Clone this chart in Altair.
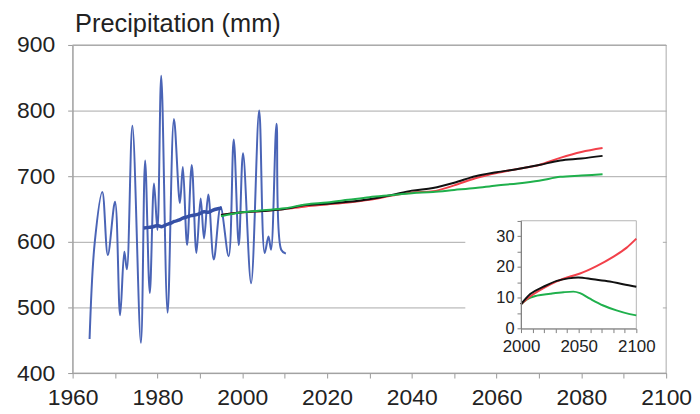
import altair as alt
import pandas as pd

# Observed annual precipitation (blue, thin)
obs_years = [1964.0, 1965.2, 1967.0, 1968.3, 1970.0, 1971.2, 1972.2, 1972.8, 1974.1, 1976.1,
             1977.1, 1978.2, 1979.2, 1980.0, 1980.9, 1982.4, 1983.9, 1985.3, 1986.0, 1987.0,
             1988.1, 1989.2, 1990.2, 1991.0, 1992.0, 1993.3, 1994.9, 1996.8, 1998.0, 1999.2,
             2000.2, 2002.1, 2004.0, 2005.3, 2006.2, 2006.8, 2008.1, 2009.2, 2010.3]
obs_vals = [452, 598, 676, 580, 661, 488, 585, 558, 777, 446,
            724, 522, 689, 618, 853, 492, 787, 659, 714, 595,
            717, 583, 666, 605, 672, 573, 653, 578, 756, 595,
            735, 537, 800, 583, 608, 588, 780, 588, 582]

# Running mean (blue, thick)
ma_years = [1976.8, 1978, 1979, 1980, 1981, 1982, 1983, 1984, 1985, 1986,
            1987, 1988, 1989, 1990, 1991, 1992, 1993, 1994, 1995.2]
ma_vals = [621, 622, 623, 625, 623, 626, 628, 631, 633, 636,
           638, 640, 641, 643, 646, 645, 648, 650, 651]

# Projections (main panel)
proj_years = [1995, 2000, 2005, 2010, 2015, 2020, 2025, 2030, 2035, 2040,
              2045, 2050, 2055, 2060, 2065, 2070, 2075, 2080, 2085]
black_vals = [641, 645, 647, 650, 656, 658, 661, 665, 671, 678,
              682, 690, 700, 706, 711, 717, 724, 727, 731]
red_vals = [641, 645, 647, 650, 654, 657, 660, 664, 670, 675,
            677, 686, 697, 705, 711, 717, 728, 737, 743]
green_vals = [639, 645, 648, 651, 657, 660, 664, 668, 671, 674,
              676, 679, 682, 686, 689, 693, 699, 701, 703]

# Inset series
in_black_years = [2000, 2008, 2019.5, 2031, 2041, 2049.6, 2062.5, 2077, 2088.5, 2100]
in_black_vals = [7.9, 11.2, 13.6, 15.5, 16.3, 16.6, 16.0, 15.3, 14.4, 13.6]
in_red_years = [2000, 2008, 2019.5, 2031, 2042.6, 2051.2, 2065.5, 2079.9, 2091.4, 2100]
in_red_vals = [7.9, 10.4, 13.1, 15.3, 16.9, 17.9, 20.3, 23.3, 26.2, 29.2]
in_green_years = [2000, 2005.2, 2013.8, 2025.3, 2036.8, 2045.4, 2051.2, 2059.8, 2071.3, 2082.8, 2094.3, 2100]
in_green_vals = [7.9, 9.5, 10.7, 11.3, 11.8, 12.0, 11.5, 9.7, 7.5, 5.9, 4.7, 4.3]

# Inset panel extents (in inset data units)
inset_x_domain = [2000, 2100]
inset_y_domain = [0, 35]
inset_bg = {"x": 1951.7, "x2": 2123, "y": -11.5, "y2": 37.8}

FONT = "Liberation Sans"
TXT = "#222222"
GRID = "#a9a9a9"

# ---------- main panel ----------
main_x = alt.X("year:Q",
               scale=alt.Scale(domain=[1960, 2100], nice=False),
               axis=alt.Axis(values=list(range(1960, 2101, 10)), format="d",
                             labelExpr="datum.value % 20 == 0 ? datum.label : ''",
                             grid=False, domainColor="#999999", tickColor="#999999",
                             tickSize=5, labelFontSize=23, labelFont=FONT, labelColor=TXT,
                             labelPadding=9, title=None, labelFlush=False))
main_y = alt.Y("value:Q",
               scale=alt.Scale(domain=[400, 900], nice=False, zero=False),
               axis=alt.Axis(values=list(range(400, 901, 100)), grid=True, gridColor=GRID,
                             domainColor="#999999", tickColor="#999999", tickSize=5,
                             labelFontSize=23, labelFont=FONT, labelColor=TXT, labelPadding=13,
                             title="Precipitation (mm)", titleAngle=0, titleAlign="left",
                             titleBaseline="alphabetic", titleX=2, titleY=-13.3,
                             titleFontSize=25.5, titleFontWeight="normal", titleFont=FONT,
                             titleColor=TXT))

df_obs = pd.DataFrame({"year": obs_years, "value": obs_vals})
df_ma = pd.DataFrame({"year": ma_years, "value": ma_vals})
df_black = pd.DataFrame({"year": proj_years, "value": black_vals})
df_red = pd.DataFrame({"year": proj_years, "value": red_vals})
df_green = pd.DataFrame({"year": proj_years, "value": green_vals})
df_frame = pd.DataFrame({"year": [1960], "year2": [2100], "value": [400], "value2": [900]})

frame = alt.Chart(df_frame).mark_rect(filled=False, stroke=GRID, strokeWidth=1).encode(
    x=main_x, x2="year2:Q", y=main_y, y2="value2:Q")
obs = alt.Chart(df_obs).mark_line(color="#4a64b6", strokeWidth=2, interpolate="catmull-rom").encode(x=main_x, y=main_y)
ma = alt.Chart(df_ma).mark_line(color="#3550a6", strokeWidth=3.5, interpolate="monotone").encode(x=main_x, y=main_y)
l_red = alt.Chart(df_red).mark_line(color="#f2404a", strokeWidth=2, interpolate="monotone").encode(x=main_x, y=main_y)
l_black = alt.Chart(df_black).mark_line(color="#111111", strokeWidth=2, interpolate="monotone").encode(x=main_x, y=main_y)
l_green = alt.Chart(df_green).mark_line(color="#1fb04c", strokeWidth=2, interpolate="monotone").encode(x=main_x, y=main_y)

main = alt.layer(frame, obs, ma, l_red, l_black, l_green)

# ---------- inset panel ----------
in_x = alt.X("year:Q",
             scale=alt.Scale(domain=inset_x_domain, range=[451, 567], nice=False),
             axis=alt.Axis(orient="bottom", offset=-44.7, values=list(range(2000, 2101, 10)),
                           format="d", labelExpr="datum.value % 50 == 0 ? datum.label : ''",
                           grid=False, domainColor="#808080", tickColor="#808080", tickSize=4,
                           labelFontSize=17, labelFont=FONT, labelColor=TXT, labelPadding=6,
                           title=None, zindex=1, labelFlush=False))
in_y = alt.Y("value:Q",
             scale=alt.Scale(domain=inset_y_domain, range=[285.3, 176.8], nice=False, zero=False),
             axis=alt.Axis(orient="left", offset=-451, values=list(range(0, 36, 5)),
                           labelExpr="datum.value % 10 == 0 ? datum.label : ''",
                           grid=False, domainColor="#808080", tickColor="#808080", tickSize=4,
                           labelFontSize=16.5, labelFont=FONT, labelColor=TXT, labelPadding=3,
                           title=None, zindex=1, labelFlush=False))

df_bg = pd.DataFrame({"year": [inset_bg["x"]], "year2": [inset_bg["x2"]],
                      "value": [inset_bg["y"]], "value2": [inset_bg["y2"]]})
df_ibox = pd.DataFrame({"year": [inset_x_domain[0]], "year2": [inset_x_domain[1]],
                        "value": [inset_y_domain[0]], "value2": [inset_y_domain[1]]})
df_ib = pd.DataFrame({"year": in_black_years, "value": in_black_vals})
df_ir = pd.DataFrame({"year": in_red_years, "value": in_red_vals})
df_ig = pd.DataFrame({"year": in_green_years, "value": in_green_vals})

bg = alt.Chart(df_bg).mark_rect(fill="white", strokeWidth=0).encode(x=in_x, x2="year2:Q", y=in_y, y2="value2:Q")
ibox = alt.Chart(df_ibox).mark_rect(filled=False, stroke="#b5b5b5", strokeWidth=1).encode(
    x=in_x, x2="year2:Q", y=in_y, y2="value2:Q")
ig = alt.Chart(df_ig).mark_line(color="#1fb04c", strokeWidth=2, interpolate="monotone").encode(x=in_x, y=in_y)
ir = alt.Chart(df_ir).mark_line(color="#f2404a", strokeWidth=2, interpolate="monotone").encode(x=in_x, y=in_y)
ibk = alt.Chart(df_ib).mark_line(color="#111111", strokeWidth=2, interpolate="monotone").encode(x=in_x, y=in_y)

inset = alt.layer(bg, ibox, ig, ir, ibk)

chart = alt.layer(main, inset).resolve_scale(x="independent", y="independent").resolve_axis(
    x="independent", y="independent"
).properties(
    width=597, height=330,
    autosize=alt.AutoSizeParams(type="none"),
    padding={"left": 65, "top": 36, "right": 26, "bottom": 40},
    background="white",
).configure_view(stroke=None)

chart.save("out.html", embed_options={"renderer": "svg", "actions": False})
